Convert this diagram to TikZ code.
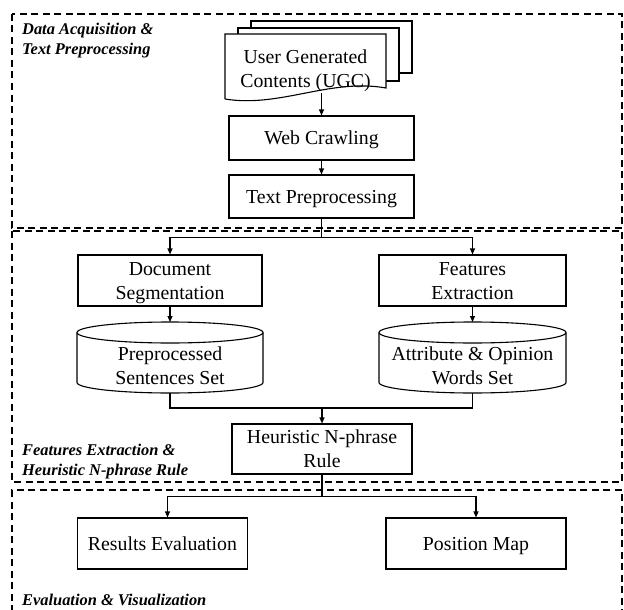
\documentclass[tikz,border=0pt]{standalone}
\usepackage{fontspec}
\setmainfont{Liberation Serif}
\usetikzlibrary{arrows.meta,calc}
\newcommand\nodefont{\fontsize{19.8}{24}\selectfont}
\newcommand\lblfont{\fontsize{16.4}{19.5}\selectfont\bfseries\itshape}
\newcommand\sx{\rule[-0.216em]{0pt}{1.107em}}
\tikzset{
 box/.style={draw, line width=1.1pt, fill=white, inner sep=0pt, align=center, font=\nodefont},
 txt/.style={inner sep=0pt, align=center, font=\nodefont},
 arr/.style={line width=1.1pt, -{Triangle[length=6pt,width=5pt]}},
 conn/.style={line width=1.1pt},
 region/.style={line width=1.4pt, dash pattern=on 7pt off 4.5pt},
 lbl/.style={font=\lblfont, align=left, inner sep=0pt, anchor=base west},
}
\begin{document}
\begin{tikzpicture}[x=1pt,y=-1pt]
\useasboundingbox (0,0) rectangle (624,610);
% regions
\draw[region] (12,14) rectangle (622,228);
\draw[region] (12,231) rectangle (622,482);
\draw[region] (12,612) -- (12,490) -- (622,490) -- (622,612);
% UGC document stack
\draw[conn, fill=white] (251,21) rectangle (412,73);
\draw[conn, fill=white] (238,28) rectangle (399,81);
\draw[conn, fill=white] (225,99) -- (225,34) -- (386,34) -- (386,88) .. controls (330,78) and (280,108) .. (225,99);
\node[txt] (ugc) at (305.5,68.5) {\sx User Generated\\\sx Contents (UGC)};
\coordinate (ugcb) at (321.5,93);
% boxes
\node[box, minimum width=185pt, minimum height=44pt] (web) at (321.5,138) {\sx Web Crawling};
\node[box, minimum width=185pt, minimum height=43pt] (tp) at (321.5,196.5) {\sx Text Preprocessing};
\node[box, minimum width=184pt, minimum height=51pt] (ds) at (170,280.5) {\sx Document\\\sx Segmentation};
\node[box, minimum width=187pt, minimum height=51pt] (fe) at (472.5,280.5) {\sx Features\\\sx Extraction};
% cylinders
\draw[conn, fill=white] (77,332.5) -- (77,382.5) arc[start angle=180,end angle=360,x radius=93pt,y radius=10.5pt] -- (263,332.5) arc[start angle=0,end angle=180,x radius=93pt,y radius=10.5pt] -- cycle;
\draw[conn] (263,332.5) arc[start angle=0,end angle=-180,x radius=93pt,y radius=10.5pt];
\draw[conn, fill=white] (379,332.5) -- (379,382.5) arc[start angle=180,end angle=360,x radius=93.5pt,y radius=10.5pt] -- (566,332.5) arc[start angle=0,end angle=180,x radius=93.5pt,y radius=10.5pt] -- cycle;
\draw[conn] (566,332.5) arc[start angle=0,end angle=-180,x radius=93.5pt,y radius=10.5pt];
\node[txt] (pss) at (170,365.5) {\sx Preprocessed\\\sx Sentences Set};
\node[txt] (aow) at (472.5,365.5) {\sx Attribute \& Opinion\\\sx Words Set};
\coordinate (pssT) at (170,322);
\coordinate (pssB) at (170,393);
\coordinate (aowT) at (472.5,322);
\coordinate (aowB) at (472.5,393);
\coordinate (join) at (322,408);
\node[box, minimum width=180pt, minimum height=50pt] (hr) at (322,449) {\sx Heuristic N-phrase\\\sx Rule};
\node[box, minimum width=169.5pt, minimum height=51pt] (re) at (162.5,543.5) {\sx Results Evaluation};
\node[box, minimum width=180pt, minimum height=51pt] (pm) at (476,543.5) {\sx Position Map};
% connectors
\draw[arr] (ugcb) -- (ugcb |- web.north);
\draw[arr] (web) -- (tp);
\draw[arr] (tp.south) -- ++(0,19) -| (ds.north);
\draw[arr] (tp.south) -- ++(0,19) -| (fe.north);
\draw[arr] (ds.south) -- (pssT);
\draw[arr] (fe.south) -- (aowT);
\draw[conn] (pssB) |- (join) -| (aowB);
\draw[arr] (join) -- (hr.north);
\draw[arr] (hr.south) -- ++(0,22) -| ([xshift=5pt]re.north);
\draw[arr] (hr.south) -- ++(0,22) -| (pm.north);
% labels
\node[lbl] (l1) at (22,54.5) {Data Acquisition \&\\Text Preprocessing};
\node[lbl] (l2) at (22,475) {Features Extraction \&\\Heuristic N-phrase Rule};
\node[lbl] (l3) at (22,605) {Evaluation \& Visualization};
\end{tikzpicture}
\end{document}
